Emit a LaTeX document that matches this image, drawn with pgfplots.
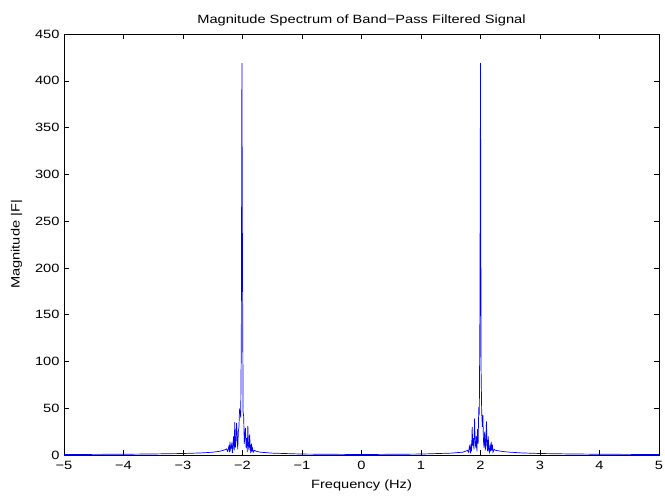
\documentclass[border=0pt]{standalone}
\usepackage{pgfplots}
\pgfplotsset{compat=1.18}
\usepackage{fontspec}
\setmainfont{Liberation Sans}[FakeStretch=1.22]
\begin{document}
\begin{tikzpicture}[x=1pt,y=1pt]
\path[use as bounding box] (-64,-43) rectangle (601,455);
\begin{axis}[
  at={(0,0)}, anchor=south west,
  scale only axis, width=595pt, height=421pt,
  xmin=-5, xmax=5, ymin=0, ymax=450,
  xtick={-5,-4,-3,-2,-1,0,1,2,3,4,5},
  xticklabels={−5,−4,−3,−2,−1,0,1,2,3,4,5},
  ytick={0,50,100,150,200,250,300,350,400,450},
  /pgf/number format/assume math mode=true,
  tick align=inside, major tick length=5pt,
  tick style={black, line width=0.5pt},
  axis line style={black, line width=0.8pt},
  ticklabel style={font=\fontsize{12}{14}\selectfont},
  xticklabel style={yshift=-3pt},
  yticklabel style={xshift=-1pt},
  label style={font=\fontsize{12}{14}\selectfont},
  title style={font=\fontsize{12}{14}\selectfont, yshift=-2pt},
  title={Magnitude Spectrum of Band−Pass Filtered Signal},
  xlabel={Frequency (Hz)},
  ylabel={Magnitude |F|},
  xlabel style={yshift=-3pt},
  ylabel style={yshift=6pt},
  clip=true,
]
\addplot[blue, line width=0.7pt] coordinates {
(-5,0.5) (-4,0.8) (-3.5,1.1) (-3,1.6) (-2.7,2.2) (-2.5,3) (-2.4,3.8) (-2.35,4.5) (-2.3,5.5)
(-2.27,6.5) (-2.25,4) (-2.23,9) (-2.22,3) (-2.21,14) (-2.2,6) (-2.18,12) (-2.17,2) (-2.15,20)
(-2.14,5) (-2.13,35) (-2.12,8) (-2.11,15) (-2.10,34) (-2.09,20) (-2.08,6) (-2.07,25) (-2.06,30)
(-2.05,48) (-2.04,46) (-2.03,40) (-2.02,120) (-2.01,419) (-2.00,200) (-1.99,46) (-1.98,41)
(-1.97,12) (-1.96,22) (-1.95,29) (-1.94,8) (-1.93,18) (-1.92,3) (-1.91,31) (-1.90,10) (-1.89,5)
(-1.88,22) (-1.87,9) (-1.86,2) (-1.85,12) (-1.84,5) (-1.83,7) (-1.82,3) (-1.8,5) (-1.77,4)
(-1.7,3) (-1.6,2.5) (-1.5,2) (-1,1) (0,0.5)
(1,1) (1.5,2) (1.6,2.5) (1.7,3) (1.75,4) (1.78,5) (1.80,3) (1.81,8) (1.82,10) (1.83,2) (1.84,9)
(1.85,4) (1.86,30) (1.87,10) (1.88,18) (1.89,6) (1.90,39) (1.91,15) (1.92,8) (1.93,20) (1.94,4)
(1.95,28) (1.96,12) (1.97,48) (1.98,45) (1.99,150) (2.00,419) (2.01,90) (2.02,46) (2.03,30)
(2.04,43) (2.05,15) (2.06,8) (2.07,25) (2.08,5) (2.09,12) (2.10,36) (2.11,10) (2.12,4) (2.13,20)
(2.14,6) (2.15,3) (2.16,9) (2.17,4) (2.18,14) (2.19,5) (2.20,11) (2.21,3) (2.23,6) (2.25,5)
(2.3,4.5) (2.4,3.5) (2.5,3) (2.7,2.2) (3,1.6) (3.5,1.1) (4,0.8) (5,0.5)
};
\end{axis}
\end{tikzpicture}
\end{document}
